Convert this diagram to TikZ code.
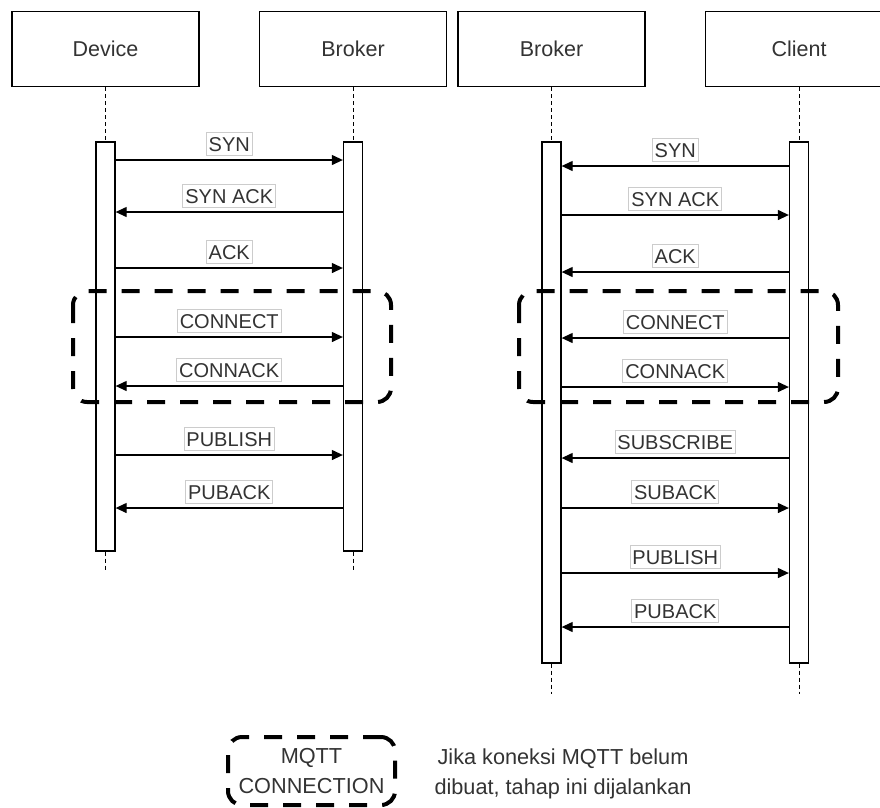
\documentclass[tikz,border=0pt]{standalone}
\usepackage{fontspec}
\setmainfont{Liberation Sans}
\usetikzlibrary{arrows.meta}
\definecolor{ink}{HTML}{333333}
\definecolor{labelframe}{HTML}{CCCCCC}

\begin{document}
\begin{tikzpicture}[x=1pt,y=-1pt,
  actor/.style={draw=black, line width=1.3pt, fill=white, minimum width=187pt,
    minimum height=75pt, inner sep=0pt, text=ink, font=\fontsize{21.5}{26}\selectfont},
  bar/.style={draw=black, line width=1.3pt, fill=white, minimum width=19pt, inner sep=0pt},
  life/.style={draw=black, line width=1pt, dash pattern=on 4pt off 3pt},
  msg/.style={draw=black, line width=1.2pt, -{Triangle[length=11pt,width=10pt]}},
  lbl/.style={draw=labelframe, line width=0.9pt, fill=white, inner xsep=2.5pt,
    inner ysep=4.5pt, text height=14.5pt, text depth=0pt, text=ink,
    font=\fontsize{20}{24}\selectfont, above=4pt},
  group/.style={draw=black, line width=4pt, dash pattern=on 18pt off 15pt,
    rounded corners=14pt},
  legendtext/.style={align=center, text=ink, font=\fontsize{21.7}{30}\selectfont}
]
\useasboundingbox (0,0) rectangle (880,807);
\clip (0,0) rectangle (880,807);

% participant headers
\node[actor] (dev)  at (105.5,49.25) {Device};
\node[actor] (brkL) at (353,49.25)   {Broker};
\node[actor] (brkR) at (551.5,49.25) {Broker};
\node[actor] (cli)  at (799,49.25)   {Client};

% activation bars
\node[bar, minimum height=409pt] (devbar)  at (105.5,346.5) {};
\node[bar, minimum height=409pt] (brkLbar) at (353,346.5)   {};
\node[bar, minimum height=521pt] (brkRbar) at (551.5,402.5) {};
\node[bar, minimum height=521pt] (clibar)  at (799,402.5)   {};

% lifeline tails
\coordinate (devend)  at (105.5,570);
\coordinate (brkLend) at (353,570);
\coordinate (brkRend) at (551.5,694);
\coordinate (cliend)  at (799,694);

\draw[life] (dev.south)  -- (devbar.north);
\draw[life] (brkL.south) -- (brkLbar.north);
\draw[life] (brkR.south) -- (brkRbar.north);
\draw[life] (cli.south)  -- (clibar.north);
\draw[life] (devbar.south)  -- (devend);
\draw[life] (brkLbar.south) -- (brkLend);
\draw[life] (brkRbar.south) -- (brkRend);
\draw[life] (clibar.south)  -- (cliend);

% Device <-> Broker messages
\draw[msg] (devbar.east |- 0,160)  -- node[lbl] {SYN}     (brkLbar.west |- 0,160);
\draw[msg] (brkLbar.west |- 0,212) -- node[lbl] {SYN ACK} (devbar.east |- 0,212);
\draw[msg] (devbar.east |- 0,268)  -- node[lbl] {ACK}     (brkLbar.west |- 0,268);
\draw[msg] (devbar.east |- 0,337)  -- node[lbl] {CONNECT} (brkLbar.west |- 0,337);
\draw[msg] (brkLbar.west |- 0,386) -- node[lbl] {CONNACK} (devbar.east |- 0,386);
\draw[msg] (devbar.east |- 0,455)  -- node[lbl] {PUBLISH} (brkLbar.west |- 0,455);
\draw[msg] (brkLbar.west |- 0,508) -- node[lbl] {PUBACK}  (devbar.east |- 0,508);

% Broker <-> Client messages
\draw[msg] (clibar.west |- 0,166)  -- node[lbl] {SYN}       (brkRbar.east |- 0,166);
\draw[msg] (brkRbar.east |- 0,215) -- node[lbl] {SYN ACK}   (clibar.west |- 0,215);
\draw[msg] (clibar.west |- 0,272)  -- node[lbl] {ACK}       (brkRbar.east |- 0,272);
\draw[msg] (clibar.west |- 0,338)  -- node[lbl] {CONNECT}   (brkRbar.east |- 0,338);
\draw[msg] (brkRbar.east |- 0,387) -- node[lbl] {CONNACK}   (clibar.west |- 0,387);
\draw[msg] (clibar.west |- 0,458)  -- node[lbl] {SUBSCRIBE} (brkRbar.east |- 0,458);
\draw[msg] (brkRbar.east |- 0,508) -- node[lbl] {SUBACK}    (clibar.west |- 0,508);
\draw[msg] (brkRbar.east |- 0,573) -- node[lbl] {PUBLISH}   (clibar.west |- 0,573);
\draw[msg] (clibar.west |- 0,627)  -- node[lbl] {PUBACK}    (brkRbar.east |- 0,627);

% MQTT connection phase frames
\draw[group] (73,291)  rectangle (391,402);
\draw[group] (519,291) rectangle (838,402);

% legend
\node[group, legendtext, minimum width=167pt, minimum height=68pt, inner sep=0pt]
  (legend) at (311.5,771) {MQTT\\CONNECTION};
\node[legendtext] (note) at (563,774) {Jika koneksi MQTT belum\\dibuat, tahap ini dijalankan};
\end{tikzpicture}
\end{document}
